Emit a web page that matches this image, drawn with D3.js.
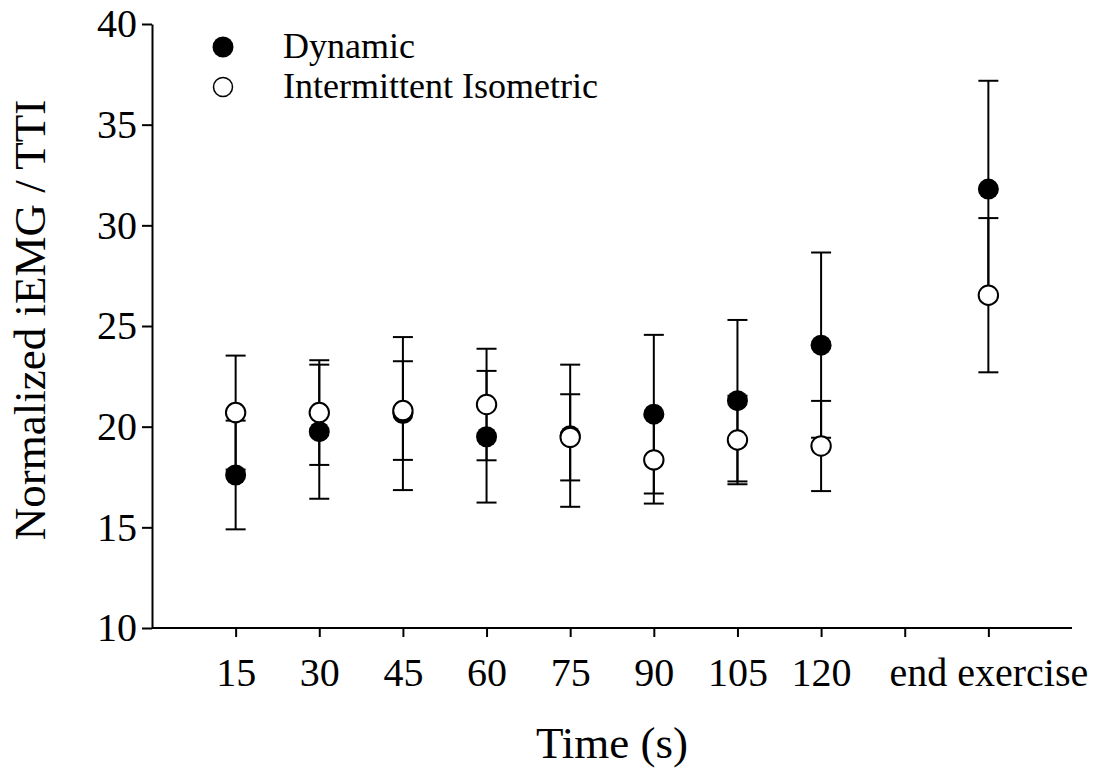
<!DOCTYPE html>
<html>
<head>
<meta charset="utf-8">
<script src="https://cdn.jsdelivr.net/npm/d3@7"></script>
<style>
  html, body { margin: 0; padding: 0; background: #fff; }
  svg { display: block; }
  text { font-family: "Liberation Serif", "Times New Roman", serif; fill: #000; }
</style>
</head>
<body>
<svg id="chart" width="1101" height="772"></svg>
<script>
// Time points (the blank slot separates the 120 s mark from end of exercise)
const categories = ["15", "30", "45", "60", "75", "90", "105", "120", "", "end exercise"];

// Dynamic contractions: mean and SD
const dynamicMean = [17.6, 19.75, 20.65, 19.5, 19.55, 20.62, 21.29, 24.05, null, 31.8];
const dynamicErr  = [2.7, 3.33, 3.8, 3.27, 3.53, 3.94, 4.01, 4.6, null, 5.38];

// Intermittent isometric contractions: mean and SD
const isometricMean = [20.7, 20.7, 20.8, 21.1, 19.47, 18.35, 19.34, 19.04, null, 26.53];
const isometricErr  = [2.83, 2.6, 2.45, 2.77, 2.14, 2.17, 2.2, 2.24, null, 3.83];

const yTicks = [10, 15, 20, 25, 30, 35, 40];

const series = [
  { name: "Dynamic", mean: dynamicMean, err: dynamicErr, fill: "#000" },
  { name: "Intermittent Isometric", mean: isometricMean, err: isometricErr, fill: "#fff" }
];

const svg = d3.select("#chart");
const plotLeft = 152, plotRight = 1072, plotTop = 24, plotBottom = 628;

const x = d3.scaleLinear().domain([0, categories.length + 1]).range([plotLeft, plotRight]);
const y = d3.scaleLinear().domain([10, 40]).range([plotBottom, plotTop]);

const tickFont = 40;

// X axis
const xAxis = d3.axisBottom(x)
  .tickValues(categories.map((_, i) => i + 1))
  .tickFormat((d) => categories[d - 1])
  .tickSize(9).tickSizeOuter(0).tickPadding(21);
const gx = svg.append("g").attr("transform", `translate(0,${plotBottom})`).call(xAxis);

// Y axis
const yAxis = d3.axisLeft(y).tickValues(yTicks).tickSize(10).tickSizeOuter(0).tickPadding(5);
const gy = svg.append("g").attr("transform", `translate(${plotLeft},0)`).call(yAxis);

[gx, gy].forEach((g) => {
  g.selectAll("path.domain").attr("stroke", "#000").attr("stroke-width", 2);
  g.selectAll(".tick line").attr("stroke", "#000").attr("stroke-width", 2);
  g.selectAll(".tick text")
    .style("font-family", '"Liberation Serif", "Times New Roman", serif')
    .style("font-size", tickFont + "px").attr("fill", "#000");
});
// x-axis line stretches across the full plot width
gx.select("path.domain").attr("d", `M${plotLeft},0H${plotRight}`);

// Axis titles
svg.append("text")
  .attr("x", (plotLeft + plotRight) / 2).attr("y", 758)
  .attr("text-anchor", "middle")
  .style("font-size", "45px")
  .text("Time (s)");

svg.append("text")
  .attr("transform", `translate(45,320) rotate(-90)`)
  .attr("text-anchor", "middle")
  .style("font-size", "45px")
  .text("Normalized iEMG / TTI");

// Error bars and symbols, one series after another
const r = 10.5, capHalf = 10;
series.forEach((s) => {
  const pts = s.mean.map((m, i) => ({ i: i + 1, m, e: s.err[i] })).filter((d) => d.m != null);
  const g = svg.append("g");
  const eb = g.selectAll("g.eb").data(pts).join("g").attr("class", "eb");
  eb.append("line")
    .attr("x1", (d) => x(d.i)).attr("x2", (d) => x(d.i))
    .attr("y1", (d) => y(d.m - d.e)).attr("y2", (d) => y(d.m + d.e))
    .attr("stroke", "#000").attr("stroke-width", 2);
  [-1, 1].forEach((sgn) => {
    eb.append("line")
      .attr("x1", (d) => x(d.i) - capHalf).attr("x2", (d) => x(d.i) + capHalf)
      .attr("y1", (d) => y(d.m + sgn * d.e)).attr("y2", (d) => y(d.m + sgn * d.e))
      .attr("stroke", "#000").attr("stroke-width", 2);
  });
  g.selectAll("circle").data(pts).join("circle")
    .attr("cx", (d) => x(d.i)).attr("cy", (d) => y(d.m))
    .attr("r", s.fill === "#000" ? r : r - 0.8)
    .attr("fill", s.fill).attr("stroke", "#000").attr("stroke-width", s.fill === "#000" ? 0 : 2);
});

// Legend
const legend = svg.append("g");
const legendRows = legend.selectAll("g").data(series).join("g")
  .attr("transform", (d, i) => `translate(223,${47 + i * 40})`);
legendRows.append("circle")
  .attr("r", (d) => d.fill === "#000" ? 10.5 : 9.5)
  .attr("fill", (d) => d.fill).attr("stroke", "#000")
  .attr("stroke-width", (d) => d.fill === "#000" ? 0 : 1.5);
legendRows.append("text")
  .attr("x", 60).attr("y", 11)
  .style("font-size", "36px")
  .text((d) => d.name);
</script>
</body>
</html>
